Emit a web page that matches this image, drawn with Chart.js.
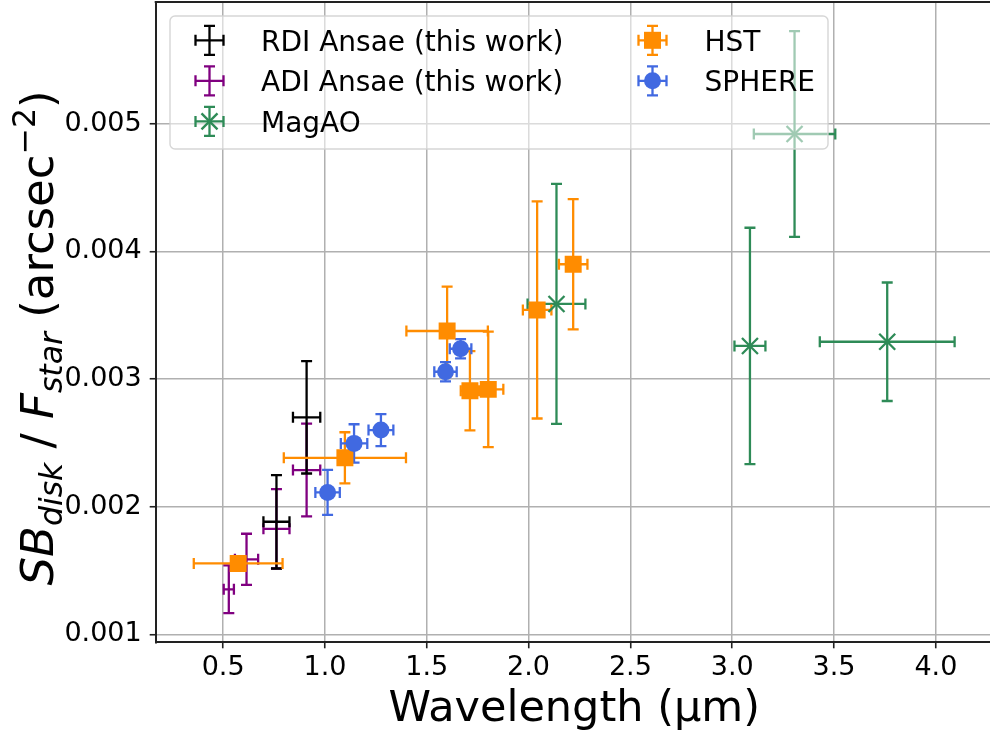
<!DOCTYPE html>
<html><head><meta charset="utf-8">
<script src="https://cdn.jsdelivr.net/npm/chart.js@4.4.1/dist/chart.umd.min.js"></script>
<style>
html,body{margin:0;padding:0;overflow:hidden;background:#fff;width:990px;height:732px}
#wrap{position:absolute;left:0;top:0;width:996px;height:732px}
</style>
</head><body><div id="wrap"><canvas id="c" width="996" height="732"></canvas></div>
<script>
// ---- data ----
const seriesNames = ["RDI Ansae (this work)", "ADI Ansae (this work)", "MagAO", "HST", "SPHERE"];

const rdiX    = [0.762, 0.910];
const rdiY    = [0.001882, 0.002700];
const rdiXErr = [0.064, 0.067];
const rdiYErr = [0.000366, 0.000440];

const adiX    = [0.528, 0.615, 0.762, 0.910];
const adiY    = [0.001353, 0.001588, 0.001827, 0.002287];
const adiXErr = [0.025, 0.057, 0.064, 0.067];
const adiYErr = [0.000187, 0.000200, 0.000311, 0.000363];

const magaoX    = [2.137, 3.306, 3.087, 3.761];
const magaoY    = [0.003588, 0.004919, 0.003259, 0.003292];
const magaoXErr = [0.142, 0.200, 0.076, 0.331];
const magaoYErr = [0.000940, 0.000806, 0.000926, 0.000464];

const hstX    = [0.574, 1.098, 1.600, 1.712, 1.802, 2.042, 2.219];
const hstY    = [0.001556, 0.002383, 0.003376, 0.002908, 0.002919, 0.003541, 0.003899];
const hstXErr = [0.218, 0.300, 0.200, 0.045, 0.074, 0.070, 0.070];
const hstYErr = [0.000050, 0.000200, 0.000347, 0.000310, 0.000453, 0.000850, 0.000510];

const sphereX    = [1.013, 1.143, 1.275, 1.592, 1.666];
const sphereY    = [0.002112, 0.002496, 0.002600, 0.003057, 0.003237];
const sphereXErr = [0.060, 0.065, 0.061, 0.055, 0.053];
const sphereYErr = [0.000176, 0.000150, 0.000125, 0.000075, 0.000075];

const xTicks = [0.5, 1.0, 1.5, 2.0, 2.5, 3.0, 3.5, 4.0];
const yTicks = [0.001, 0.002, 0.003, 0.004, 0.005];
const xRange = [0.169, 4.279];
const yRange = [0.000938, 0.005953];

const xTitle = "Wavelength (µm)";
const yTitleParts = [
  {t: "SB", it: true}, {t: "disk", it: true, sub: true}, {t: " / "},
  {t: "F", it: true}, {t: "star", it: true, sub: true}, {t: " (arcsec"},
  {t: "\u22122", sup: true}, {t: ")"}
];

// ---- styles ----
const COLORS = {rdi: "#000000", adi: "#800080", magao: "#2e8b57", hst: "#ff8c00", sphere: "#4169e1"};
const FONT = '"DejaVu Sans", "Liberation Sans", sans-serif';
const LW = 2.3;

function pts(xs, ys, xe, ye) { return xs.map((x, i) => ({x: x, y: ys[i], xe: xe[i], ye: ye[i]})); }

const dsADI    = {label: seriesNames[1], data: pts(adiX, adiY, adiXErr, adiYErr), color: COLORS.adi, pointRadius: 0, order: 4};
const dsRDI    = {label: seriesNames[0], data: pts(rdiX, rdiY, rdiXErr, rdiYErr), color: COLORS.rdi, pointRadius: 0, order: 3};
const dsMagAO  = {label: seriesNames[2], data: pts(magaoX, magaoY, magaoXErr, magaoYErr), color: COLORS.magao,
                  pointStyle: "crossRot", pointRadius: 11.3, borderWidth: LW, borderColor: COLORS.magao, backgroundColor: COLORS.magao, order: 2};
const dsHST    = {label: seriesNames[3], data: pts(hstX, hstY, hstXErr, hstYErr), color: COLORS.hst,
                  pointStyle: "rect", pointRadius: 12, borderWidth: 0, borderColor: COLORS.hst, backgroundColor: COLORS.hst, order: 1};
const dsSPHERE = {label: seriesNames[4], data: pts(sphereX, sphereY, sphereXErr, sphereYErr), color: COLORS.sphere,
                  pointStyle: "circle", pointRadius: 8.5, borderWidth: 0, borderColor: COLORS.sphere, backgroundColor: COLORS.sphere, order: 0};

const CAP = 5.5;

const errorBarPlugin = {
  id: "errorbars",
  beforeDatasetsDraw(chart) {
    const ctx = chart.ctx, xs = chart.scales.x, ys = chart.scales.y, a = chart.chartArea;
    ctx.save();
    ctx.beginPath(); ctx.rect(a.left, a.top, a.right - a.left, a.bottom - a.top); ctx.clip();
    ctx.lineWidth = LW; ctx.lineCap = "butt";
    chart.data.datasets.forEach(ds => {
      ctx.strokeStyle = ds.color;
      ds.data.forEach(p => {
        const px = xs.getPixelForValue(p.x), py = ys.getPixelForValue(p.y);
        const x0 = xs.getPixelForValue(p.x - p.xe), x1 = xs.getPixelForValue(p.x + p.xe);
        const y0 = ys.getPixelForValue(p.y - p.ye), y1 = ys.getPixelForValue(p.y + p.ye);
        ctx.beginPath();
        ctx.moveTo(x0, py); ctx.lineTo(x1, py);
        ctx.moveTo(px, y0); ctx.lineTo(px, y1);
        ctx.moveTo(x0, py - CAP); ctx.lineTo(x0, py + CAP);
        ctx.moveTo(x1, py - CAP); ctx.lineTo(x1, py + CAP);
        ctx.moveTo(px - CAP, y0); ctx.lineTo(px + CAP, y0);
        ctx.moveTo(px - CAP, y1); ctx.lineTo(px + CAP, y1);
        ctx.stroke();
      });
    });
    ctx.restore();
  }
};

function drawMarker(ctx, style, x, y, color) {
  ctx.fillStyle = color; ctx.strokeStyle = color;
  if (style === "rect") { ctx.fillRect(x - 8.5, y - 8.5, 17, 17); }
  else if (style === "circle") { ctx.beginPath(); ctx.arc(x, y, 8.5, 0, Math.PI * 2); ctx.fill(); }
  else if (style === "crossRot") {
    const d = 8; ctx.lineWidth = LW; ctx.beginPath();
    ctx.moveTo(x - d, y - d); ctx.lineTo(x + d, y + d);
    ctx.moveTo(x - d, y + d); ctx.lineTo(x + d, y - d); ctx.stroke();
  }
}

const legendPlugin = {
  id: "customLegend",
  afterDatasetsDraw(chart) {
    const ctx = chart.ctx;
    const box = {x: 170, y: 16, w: 658, h: 133, r: 5};
    ctx.save();
    ctx.beginPath();
    ctx.roundRect(box.x, box.y, box.w, box.h, box.r);
    ctx.fillStyle = "rgba(255,255,255,0.55)"; ctx.fill();
    ctx.lineWidth = 1.4; ctx.strokeStyle = "rgba(210,210,210,0.9)"; ctx.stroke();
    const order = [dsRDI, dsADI, dsMagAO, dsHST, dsSPHERE];
    const cols = [{hx: 209.5, tx: 261}, {hx: 652.5, tx: 704.5}];
    const rows = [40.3, 80.8, 121.4];
    ctx.font = "28px " + FONT; ctx.textBaseline = "alphabetic"; ctx.textAlign = "left";
    order.forEach((ds, i) => {
      const col = cols[i < 3 ? 0 : 1], cy = rows[i < 3 ? i : i - 3], cx = col.hx;
      ctx.strokeStyle = ds.color; ctx.lineWidth = LW;
      ctx.beginPath();
      ctx.moveTo(cx - 14, cy); ctx.lineTo(cx + 14, cy);
      ctx.moveTo(cx, cy - 14.5); ctx.lineTo(cx, cy + 14.5);
      ctx.moveTo(cx - 14, cy - CAP); ctx.lineTo(cx - 14, cy + CAP);
      ctx.moveTo(cx + 14, cy - CAP); ctx.lineTo(cx + 14, cy + CAP);
      ctx.moveTo(cx - CAP, cy - 14.5); ctx.lineTo(cx + CAP, cy - 14.5);
      ctx.moveTo(cx - CAP, cy + 14.5); ctx.lineTo(cx + CAP, cy + 14.5);
      ctx.stroke();
      if (ds.pointRadius) drawMarker(ctx, ds.pointStyle, cx, cy, ds.color);
      ctx.fillStyle = "#000";
      ctx.fillText(ds.label, col.tx, cy + 10.2);
    });
    ctx.restore();
  }
};

const titlePlugin = {
  id: "titles",
  afterDraw(chart) {
    const ctx = chart.ctx, a = chart.chartArea;
    ctx.save();
    ctx.strokeStyle = "#222"; ctx.lineWidth = 2;
    ctx.beginPath(); ctx.moveTo(a.left - 1, a.top); ctx.lineTo(a.right, a.top); ctx.stroke();
    ctx.beginPath(); ctx.moveTo(a.right, a.top); ctx.lineTo(a.right, a.bottom); ctx.stroke();
    // x title
    ctx.fillStyle = "#000";
    ctx.font = "43px " + FONT; ctx.textAlign = "center"; ctx.textBaseline = "alphabetic";
    ctx.fillText(xTitle, (a.left + a.right) / 2, 721);
    // y title
    const fs = 45; let total = 0; const meas = [];
    ctx.textAlign = "left";
    yTitleParts.forEach(p => {
      const size = (p.sub || p.sup) ? fs * 0.7 : fs;
      const font = (p.it ? "italic " : "") + size + "px " + FONT;
      ctx.font = font;
      const w = ctx.measureText(p.t).width;
      meas.push({p, font, w}); total += w;
    });
    ctx.translate(53, 338); ctx.rotate(-Math.PI / 2);
    let x = -total / 2;
    meas.forEach(m => {
      ctx.font = m.font;
      let dy = 0;
      if (m.p.sub) dy = fs * 0.2;
      if (m.p.sup) dy = -fs * 0.4;
      ctx.fillText(m.p.t, x, dy);
      x += m.w;
    });
    ctx.restore();
  }
};

function zeroPad(s) { s.paddingTop = 0; s.paddingBottom = 0; s.paddingLeft = 0; s.paddingRight = 0; }

new Chart(document.getElementById("c"), {
  type: "scatter",
  data: {datasets: [dsADI, dsRDI, dsMagAO, dsHST, dsSPHERE]},
  options: {
    responsive: false, devicePixelRatio: 1, animation: false,
    layout: {autoPadding: false, padding: {left: 0, right: 3.3, top: 2, bottom: 0}},
    plugins: {legend: {display: false}, tooltip: {enabled: false}},
    scales: {
      x: {
        type: "linear", min: xRange[0], max: xRange[1],
        afterBuildTicks: s => { s.ticks = xTicks.map(v => ({value: v})); },
        afterFit: s => { s.height = 89.7; zeroPad(s); },
        grid: {color: "#b0b0b0", lineWidth: 1.5, drawTicks: true, tickLength: 6, tickColor: "#222", tickWidth: 1.6},
        border: {display: true, color: "#222", width: 2},
        ticks: {color: "#000", font: {family: FONT, size: 27}, padding: 3, maxRotation: 0, autoSkip: false,
                callback: v => Number(v).toFixed(1)}
      },
      y: {
        type: "linear", min: yRange[0], max: yRange[1],
        afterBuildTicks: s => { s.ticks = yTicks.map(v => ({value: v})); },
        afterFit: s => { s.width = 155.7; zeroPad(s); },
        grid: {color: "#b0b0b0", lineWidth: 1.5, drawTicks: true, tickLength: 6, tickColor: "#222", tickWidth: 1.6},
        border: {display: true, color: "#222", width: 2},
        ticks: {color: "#000", font: {family: FONT, size: 27}, padding: 8, autoSkip: false,
                callback: v => Number(v).toFixed(3)}
      }
    }
  },
  plugins: [errorBarPlugin, legendPlugin, titlePlugin]
});
</script>
</body></html>
